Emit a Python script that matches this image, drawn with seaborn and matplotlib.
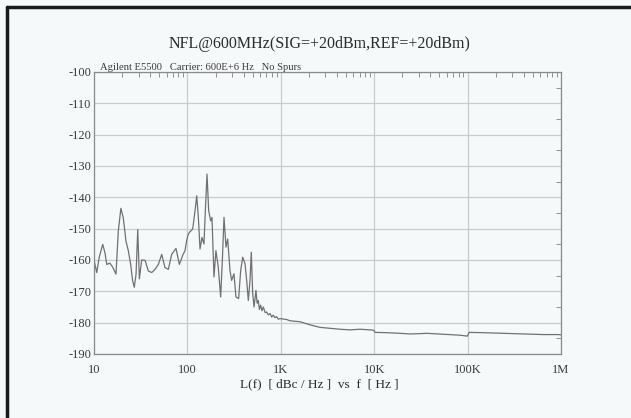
import numpy as np
import pandas as pd
import matplotlib
matplotlib.use("Agg")
import matplotlib.pyplot as plt
from matplotlib.lines import Line2D
from matplotlib.ticker import FixedLocator, FixedFormatter, LogLocator, NullFormatter, MultipleLocator
import seaborn as sns

# ---- data (rows of 10 values, aligned) ----
freq_hz = [
    10, 10.7, 11.4, 12.4, 13.1, 13.7, 14.8, 15.8, 17.2, 18.2,
    19.4, 20.6, 22, 23.3, 24.7, 25.9, 27, 28.2, 29.4, 30.6,
    32.4, 35.2, 38.2, 41.5, 45, 48.9, 53.1, 57.5, 62.5, 67.9,
    75.5, 82, 89.1, 94.3, 98.2, 101.5, 105, 114, 120.6, 125.8,
    131, 136.5, 143.3, 150.5, 155.6, 162.2, 169, 177.5, 183.3, 192.6,
    202, 214, 227, 236.6, 246.6, 259, 270, 285.6, 297.7, 315.3,
    331, 353.6, 372, 391, 414, 431, 449, 468, 483, 500,
    517, 542, 558, 574, 590, 609, 628, 650, 680, 706,
    735, 766, 800, 831, 865, 903, 940, 979, 1156, 1256,
    1607, 2056, 2630, 3365, 4305, 5508, 7047, 9015, 9900, 10200,
    13600, 18900, 24200, 30900, 36500, 55000, 83000, 99300, 104000, 147000,
    241000, 395000, 646000, 935000, 1000000,
]
noise_dbc = [
    -160, -164, -159, -155, -157.7, -161.4, -161, -162.2, -164.5, -150.8,
    -143.5, -146.6, -154, -157, -161.4, -166.6, -168.7, -164.5, -150.3, -166,
    -160, -160.1, -163.5, -164, -163, -161.4, -158.2, -162.4, -163, -158.2,
    -156.3, -161.4, -158.5, -157, -153.8, -152, -151.2, -150.1, -144.3, -139.5,
    -146.4, -156.5, -152.8, -154.9, -144.3, -132.6, -144.3, -147.5, -146.4, -165.4,
    -157, -162.3, -171.8, -160.2, -146.4, -155.9, -153.3, -163.3, -166.5, -164.4,
    -171.8, -172.3, -163.3, -159.1, -161.2, -166.5, -172.9, -166.5, -157.5, -170.7,
    -175, -169.7, -173.8, -172.9, -175.8, -174.4, -176.2, -175, -176.8, -176.6,
    -177.5, -177.1, -178.2, -177.6, -178.4, -178.1, -178.9, -178.7, -179, -179.4,
    -179.7, -180.7, -181.5, -181.8, -182.1, -182.3, -182.1, -182.3, -182.4, -183.1,
    -183.2, -183.4, -183.6, -183.5, -183.4, -183.7, -184, -184.3, -183.1, -183.2,
    -183.4, -183.6, -183.8, -183.8, -183.9,
]

x_tick_values = [10, 100, 1000, 10000, 100000, 1000000]
x_tick_labels = ["10", "100", "1K", "10K", "100K", "1M"]
y_tick_values = [-100, -110, -120, -130, -140, -150, -160, -170, -180, -190]

title_text = "NFL@600MHz(SIG=+20dBm,REF=+20dBm)"
subtitle_text = "Agilent E5500   Carrier: 600E+6 Hz   No Spurs"
xlabel_text = "L(f)  [ dBc / Hz ]  vs  f  [ Hz ]"

df = pd.DataFrame({"f": freq_hz, "L": noise_dbc})

sns.set_theme(style="white")
plt.rcParams["font.family"] = ["Liberation Serif", "DejaVu Serif"]
plt.rcParams["axes.unicode_minus"] = False

bg = "#f6f9fa"
fig = plt.figure(figsize=(6.31, 4.18), dpi=100, facecolor=bg)
ax = fig.add_axes([94 / 631, 1 - 354 / 418, (561 - 94) / 631, (354 - 72) / 418])
ax.set_facecolor(bg)

sns.lineplot(data=df, x="f", y="L", ax=ax, estimator=None, sort=False,
             color="#707070", linewidth=0.9)

ax.set_xscale("log")
ax.set_xlim(10, 1e6)
ax.set_ylim(-190, -100)

ax.xaxis.set_major_locator(FixedLocator(x_tick_values))
ax.xaxis.set_major_formatter(FixedFormatter(x_tick_labels))
ax.xaxis.set_minor_locator(LogLocator(base=10, subs=np.arange(2, 10)))
ax.xaxis.set_minor_formatter(NullFormatter())
ax.yaxis.set_major_locator(FixedLocator(y_tick_values))
ax.yaxis.set_minor_locator(MultipleLocator(5))

ax.grid(True, which="major", color="#c9cccd", linewidth=0.9)
ax.tick_params(which="both", direction="in", top=True, right=True,
               color="#909090", labelcolor="#3a3a3a", labelsize=9)
ax.tick_params(which="major", length=0, pad=2)
ax.tick_params(which="minor", length=3.5, width=0.7)
ax.tick_params(axis="x", which="major", pad=7)
for s in ax.spines.values():
    s.set_color("#8a8a8a")
    s.set_linewidth(0.9)

ax.set_xlabel("")
ax.set_ylabel("")

fig.text(0.507, 1 - 44 / 418, title_text, ha="center", va="center",
         fontsize=11.5, color="#2a2a2a")
fig.text(100 / 631, 1 - 67 / 418, subtitle_text, ha="left", va="center",
         fontsize=7.6, color="#3a3a3a")
fig.text(319 / 631, 1 - 384 / 418, xlabel_text, ha="center", va="center",
         fontsize=9.5, color="#2a2a2a")

# scan frame (top and left edges)
fig.add_artist(Line2D([7 / 631, 7 / 631], [0, 1 - 7 / 418], transform=fig.transFigure,
                      color="#1a1a1a", linewidth=2.5))
fig.add_artist(Line2D([7 / 631, 1], [1 - 7 / 418, 1 - 7 / 418], transform=fig.transFigure,
                      color="#1a1a1a", linewidth=2.5))

fig.savefig("out.png", dpi=100, facecolor=bg)
